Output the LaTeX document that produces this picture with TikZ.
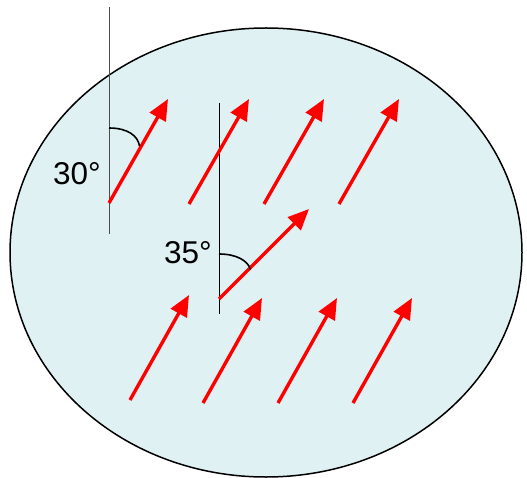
\documentclass[tikz,border=0pt]{standalone}
\usepackage{fontspec}
\setmainfont{Liberation Sans}
\usetikzlibrary{arrows.meta}
\definecolor{cellfill}{RGB}{224,241,244}
\definecolor{arrowred}{RGB}{255,0,0}
\tikzset{
  cell/.style={draw=black, line width=1.5pt, fill=cellfill},
  vec/.style={draw=arrowred, line width=3.4pt, -{Triangle[length=21pt,width=18pt]}},
  refline/.style={draw=black, line width=1pt},
  anglearc/.style={draw=black, line width=1.6pt},
  anglelabel/.style={inner sep=0pt, anchor=base west, font=\fontsize{31.5}{38}\selectfont}
}
\begin{document}
\begin{tikzpicture}[x=1pt, y=-1pt]
\useasboundingbox (0,0) rectangle (527,478);
% cell outline
\draw[cell] (266,252.5) ellipse [x radius=256, y radius=224.5];
% reference lines
\coordinate (v1top) at (109,7);
\coordinate (v1bot) at (109,234);
\coordinate (v2top) at (219,103);
\coordinate (v2bot) at (219,314);
\draw[refline, draw=black!70] (v1top) -- (v1bot);
\draw[refline] (v2top) -- (v2bot);
% top row
\coordinate (a1s) at (109,203); \coordinate (a1e) at (168,99);
\coordinate (a2s) at (189,204); \coordinate (a2e) at (249,99);
\coordinate (a3s) at (264,204); \coordinate (a3e) at (324,99);
\coordinate (a4s) at (339,204); \coordinate (a4e) at (399,99);
% middle arrow
\coordinate (m1s) at (219,299); \coordinate (m1e) at (309,209);
% bottom row
\coordinate (b1s) at (130,400); \coordinate (b1e) at (189,295);
\coordinate (b2s) at (203,403); \coordinate (b2e) at (262,298);
\coordinate (b3s) at (278,403); \coordinate (b3e) at (337,298);
\coordinate (b4s) at (353,403); \coordinate (b4e) at (412,298);
\foreach \p in {a1,a2,a3,a4,m1,b1,b2,b3,b4}
  \draw[vec] (\p s) -- (\p e);
% angle arcs
\coordinate (arc1s) at (109,128); \coordinate (arc1e) at (139.5,146);
\draw[anglearc] (arc1s) .. controls (128,128) and (138,136) .. (arc1e);
\coordinate (arc2s) at (219,254); \coordinate (arc2e) at (250.5,269.5);
\draw[anglearc] (arc2s) .. controls (237,254) and (248,261) .. (arc2e);
% labels
\node[anglelabel] (l30) at (53,185) {30°};
\node[anglelabel] (l35) at (164,263) {35°};
\end{tikzpicture}
\end{document}
